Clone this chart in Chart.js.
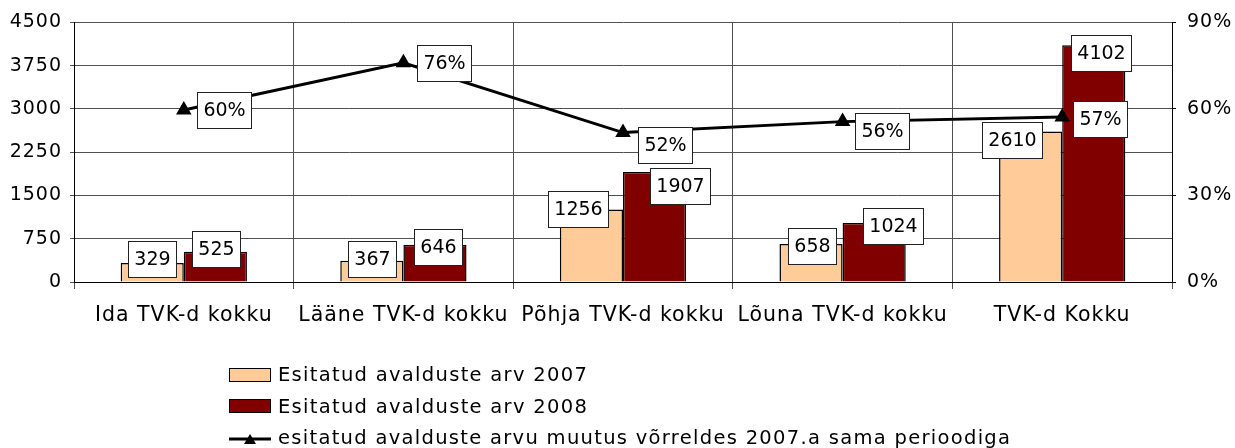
<!DOCTYPE html>
<html>
<head>
<meta charset="utf-8">
<script src="https://cdn.jsdelivr.net/npm/chart.js@4.4.1/dist/chart.umd.min.js"></script>
<style>
  html, body { margin: 0; padding: 0; background: #fff; }
  #wrap { position: relative; width: 1235px; height: 448px; }
  #legend { position: absolute; left: 229px; top: 359px; font: 19.5px 'DejaVu Sans', sans-serif; letter-spacing: 1.3px; color: #000; }
  .item { display: flex; align-items: center; height: 31.5px; white-space: nowrap; }
  .swatch { width: 42px; height: 14px; border: 1.5px solid #000; margin-right: 7px; box-sizing: border-box; }
  .lineswatch { width: 42px; height: 14px; margin-right: 7px; }
</style>
</head>
<body>
<div id="wrap">
  <canvas id="chart"></canvas>
  <div id="legend"></div>
</div>
<script>
// --- data ---
const categories = ['Ida TVK-d kokku', 'Lääne TVK-d kokku', 'Põhja TVK-d kokku', 'Lõuna TVK-d kokku', 'TVK-d Kokku'];
const applied_2007 = [329, 367, 1256, 658, 2610];
const applied_2008 = [525, 646, 1907, 1024, 4102];
const change_pct = [0.596, 0.760, 0.518, 0.556, 0.572];
const left_ticks = [0, 750, 1500, 2250, 3000, 3750, 4500];
const right_ticks = [0, 0.3, 0.6, 0.9];
const series_names = [
  'Esitatud avalduste arv 2007',
  'Esitatud avalduste arv 2008',
  'esitatud avalduste arvu muutus võrreldes 2007.a sama perioodiga'
];

// label box nudges (dx, dy from the anchor), same order as datasets
const label_nudge = [
  [[0, -4], [0, -2], [-13, -1], [1, 2], [-19, 9]],
  [[1, -3], [3, 2], [25, 14], [19, 3], [7, 8]],
  [[40, 0], [41, 0], [42, 12], [39, 9], [38, 2]]
];

const FONT = "'DejaVu Sans', sans-serif";
const GRID = '#505050';

// axis text in the original is slightly letter-spaced
const spacingPlugin = {
  id: 'axisSpacing',
  beforeDraw(chart) { chart.ctx.letterSpacing = '1px'; },
  beforeDatasetsDraw(chart) { chart.ctx.letterSpacing = '0px'; }
};

const boxLabelPlugin = {
  id: 'boxLabels',
  afterDatasetsDraw(chart) {
    const ctx = chart.ctx;
    ctx.save();
    ctx.font = '19px ' + FONT;
    ctx.textAlign = 'center';
    ctx.textBaseline = 'middle';
    ctx.lineWidth = 1;
    chart.data.datasets.forEach((ds, di) => {
      const meta = chart.getDatasetMeta(di);
      meta.data.forEach((el, i) => {
        const txt = ds.type === 'line' ? Math.round(ds.data[i] * 100) + '%' : String(ds.data[i]);
        const [dx, dy] = label_nudge[di][i];
        const w = Math.round(ctx.measureText(txt).width + 12), h = 36;
        const cx = el.x + dx, cy = el.y + dy;
        const x0 = Math.round(cx - w / 2) + 0.5, y0 = Math.round(cy - h / 2) + 0.5;
        ctx.fillStyle = '#fff';
        ctx.fillRect(x0, y0, w, h);
        ctx.strokeStyle = '#222';
        ctx.strokeRect(x0, y0, w, h);
        ctx.fillStyle = '#000';
        ctx.fillText(txt, x0 + w / 2, y0 + h / 2 + 1);
      });
    });
    ctx.restore();
  }
};

const chart = new Chart(document.getElementById('chart'), {
  data: {
    labels: categories,
    datasets: [
      {
        type: 'bar', label: series_names[0], data: applied_2007,
        backgroundColor: '#FFCC99', borderColor: '#000', borderWidth: 1.5,
        yAxisID: 'y', order: 1
      },
      {
        type: 'bar', label: series_names[1], data: applied_2008,
        backgroundColor: '#800000', borderColor: '#000', borderWidth: 1.5,
        yAxisID: 'y', order: 1
      },
      {
        type: 'line', label: series_names[2], data: change_pct,
        borderColor: '#000', borderWidth: 3, tension: 0,
        pointStyle: 'triangle', pointRadius: 6, pointBackgroundColor: '#000', pointBorderColor: '#000',
        yAxisID: 'y1', order: 0
      }
    ]
  },
  options: {
    responsive: true,
    maintainAspectRatio: false,
    animation: false,
    layout: { padding: { top: 21, left: 0, right: 0, bottom: 106 } },
    datasets: { bar: { categoryPercentage: 0.575, barPercentage: 1 } },
    plugins: { legend: { display: false }, tooltip: { enabled: false } },
    scales: {
      x: {
        offset: true,
        grid: { color: GRID, lineWidth: 1, tickLength: 7 },
        border: { color: '#000' },
        ticks: { color: '#000', font: { family: FONT, size: 20.5 }, padding: 14, maxRotation: 0, autoSkip: false },
        afterFit: s => { s.height = 60; }
      },
      y: {
        position: 'left', min: 0, max: 4500,
        afterBuildTicks: s => { s.ticks = left_ticks.map(v => ({ value: v })); },
        grid: { color: GRID, lineWidth: 1, tickLength: 4 },
        border: { color: '#000' },
        ticks: { color: '#000', font: { family: FONT, size: 19 }, padding: 8, callback: v => String(v) },
        afterFit: s => { s.width = 74; }
      },
      y1: {
        position: 'right', min: 0, max: 0.9,
        afterBuildTicks: s => { s.ticks = right_ticks.map(v => ({ value: v })); },
        grid: { drawOnChartArea: false, color: '#000', tickLength: 4 },
        border: { color: '#000' },
        ticks: { color: '#000', font: { family: FONT, size: 19 }, padding: 11, callback: v => Math.round(v * 100) + '%' },
        afterFit: s => { s.width = 63; }
      }
    }
  },
  plugins: [spacingPlugin, boxLabelPlugin]
});

// legend: one item per line, built from the datasets
const legend = document.getElementById('legend');
chart.data.datasets.forEach(ds => {
  const item = document.createElement('div');
  item.className = 'item';
  if (ds.type === 'line') {
    item.innerHTML = '<svg class="lineswatch" width="42" height="14">' +
      '<line x1="0" y1="8" x2="42" y2="8" stroke="#000" stroke-width="3"/>' +
      '<polygon points="15,13 27,13 21,3" fill="#000"/></svg>';
  } else {
    item.innerHTML = '<span class="swatch" style="background:' + ds.backgroundColor + '"></span>';
  }
  const txt = document.createElement('span');
  txt.textContent = ds.label;
  item.appendChild(txt);
  legend.appendChild(item);
});
</script>
</body>
</html>
